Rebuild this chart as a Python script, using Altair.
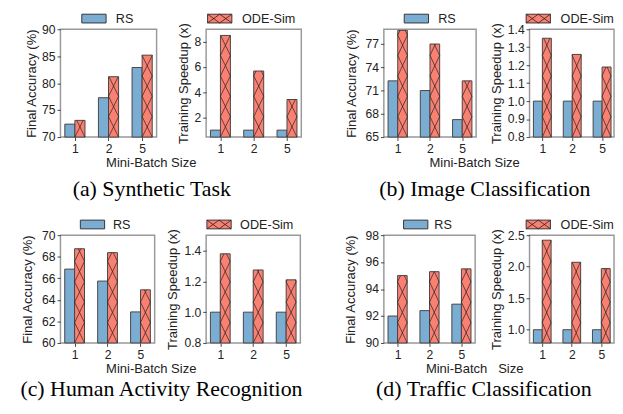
import altair as alt
import pandas as pd

batches = ["1", "2", "5"]
series = ["RS", "ODE-Sim"]
colors = ["#7BADD3", "#FA8072"]

acc_a_rs = [72.4, 77.3, 82.9]
acc_a_ode = [73.1, 81.2, 85.2]
spd_a_rs = [1.0, 1.0, 1.0]
spd_a_ode = [8.51, 5.69, 3.43]

acc_b_rs = [72.25, 71.0, 67.25]
acc_b_ode = [78.75, 77.0, 72.25]
spd_b_rs = [1.0, 1.0, 1.0]
spd_b_ode = [1.35, 1.26, 1.19]

acc_c_rs = [66.85, 65.74, 62.88]
acc_c_ode = [68.74, 68.38, 64.93]
spd_c_rs = [1.0, 1.0, 1.0]
spd_c_ode = [1.379, 1.274, 1.21]

acc_d_rs = [92.0, 92.4, 92.88]
acc_d_ode = [95.0, 95.29, 95.5]
spd_d_rs = [1.0, 1.0, 1.0]
spd_d_ode = [2.42, 2.07, 1.97]

captions = ["(a) Synthetic Task", "(b) Image Classification",
            "(c) Human Activity Recognition", "(d) Traffic Classification"]
xtitles = ["Mini-Batch Size", "Mini-Batch Size", "Mini-Batch Size", "Mini-Batch\u00a0\u00a0 Size"]
acc_title = "Final Accuracy (%)"
spd_title = "Training Speedup (x)"

H = 111
BW = 0.3
HATCH_PX = 21
FONT = "Liberation Sans"
FS_LABEL = 12.5
FS_TITLE = 13.4
LFS = 13
LEG_TOP, LEG_BOT = -15.5, -6.5
LEG_HALF = 12.5


def bars_df(rs, ode, base):
    rows = []
    for i, b in enumerate(batches):
        rows.append(dict(x0=i - BW, x1=i, y0=base, y1=rs[i], series="RS"))
        rows.append(dict(x0=i, x1=i + BW, y0=base, y1=ode[i], series="ODE-Sim"))
    return pd.DataFrame(rows)


def hatch_df(ode, base, top_dom):
    step = HATCH_PX * (top_dom - base) / H
    rows = []
    for i in range(len(batches)):
        xl, xr = i, i + BW
        y = base
        top = ode[i]
        while y < top - 1e-9:
            frac = min(1.0, (top - y) / step)
            yt = y + frac * step
            rows.append(dict(x0=xl, x1=xl + frac * BW, y0=y, y1=yt))
            rows.append(dict(x0=xr, x1=xr - frac * BW, y0=y, y1=yt))
            y += step
    return pd.DataFrame(rows)


def legend_layers(leg, cx, tx):
    ci = series.index(leg)
    one = pd.DataFrame({"s": [leg]})
    out = [alt.Chart(one).mark_rect(
        fill=colors[ci], stroke="#333333", strokeWidth=1
    ).encode(x=alt.value(cx - LEG_HALF), x2=alt.value(cx + LEG_HALF),
             y=alt.value(LEG_TOP), y2=alt.value(LEG_BOT))]
    if ci == 1:
        for xa, xb in [(cx - LEG_HALF, cx), (cx, cx + LEG_HALF)]:
            for ya, yb in [(LEG_TOP, LEG_BOT), (LEG_BOT, LEG_TOP)]:
                out.append(alt.Chart(one).mark_rule(color="#222222", strokeWidth=0.8).encode(
                    x=alt.value(xa), x2=alt.value(xb), y=alt.value(ya), y2=alt.value(yb)))
    out.append(alt.Chart(one).mark_text(
        align="left", baseline="alphabetic", font=FONT, fontSize=LFS, color="#222222"
    ).encode(x=alt.value(tx), y=alt.value(-6), text="s:N"))
    return out


def panel(rs, ode, ydom, yticks, yfmt, ytitle, ytx, width, xmax,
          leg, leg_cx, leg_tx, caption=None, cap_x=0, cap_y=0, xtitle=None):
    xs = alt.Scale(domain=[-0.43, xmax], nice=False, zero=False)
    ys = alt.Scale(domain=ydom, nice=False, zero=False)
    xkw = dict(values=[0, 1, 2], labelExpr="['1','2','5'][datum.value]",
               grid=False, domain=False, tickSize=3.5, labelPadding=2)
    if xtitle:
        xkw.update(title=xtitle, titleX=93, titleY=26.5, titleAlign="center",
                   titleBaseline="middle")
    else:
        xkw.update(title=None)
    xaxis = alt.Axis(**xkw)
    yaxis = alt.Axis(values=yticks, format=yfmt, title=ytitle, grid=False,
                     domain=False, tickSize=3.5, labelPadding=2,
                     titleX=-ytx, titleY=H / 2, titleAngle=270,
                     titleAlign="center", titleBaseline="middle")
    bars = alt.Chart(bars_df(rs, ode, ydom[0])).mark_bar(
        stroke="#444444", strokeWidth=1
    ).encode(
        x=alt.X("x0:Q", scale=xs, axis=xaxis),
        x2="x1:Q",
        y=alt.Y("y1:Q", scale=ys, axis=yaxis),
        y2="y0:Q",
        color=alt.Color("series:N", scale=alt.Scale(domain=series, range=colors), legend=None),
    )
    hatch = alt.Chart(hatch_df(ode, ydom[0], ydom[1])).mark_rule(
        color="#222222", strokeWidth=0.7
    ).encode(
        x=alt.X("x0:Q", scale=xs, axis=xaxis),
        x2="x1:Q",
        y=alt.Y("y0:Q", scale=ys, axis=yaxis),
        y2="y1:Q",
    )
    layers = [bars, hatch] + legend_layers(leg, leg_cx, leg_tx)
    if caption:
        cap = alt.Chart(pd.DataFrame({"c": [caption]})).mark_text(
            align="center", baseline="alphabetic", font="Liberation Serif",
            fontSize=22.5, color="#000000"
        ).encode(x=alt.value(cap_x), y=alt.value(cap_y), text="c:N")
        layers.append(cap)
    return alt.layer(*layers).properties(width=width, height=H)


def spacer(w, anchor=None):
    base = alt.Chart(pd.DataFrame({"a": [0]})).mark_point(opacity=0, size=1).encode(
        x=alt.value(1), y=alt.value(1)
    )
    if anchor is not None:
        a = alt.Chart(pd.DataFrame({"a": [0]})).mark_rect(opacity=0).encode(
            x=alt.value(1), x2=alt.value(4), y=alt.value(anchor[0]), y2=alt.value(anchor[1])
        )
        base = alt.layer(base, a)
    return base.properties(width=w, height=H, view=alt.ViewBackground(strokeOpacity=0))


A_acc = panel(acc_a_rs, acc_a_ode, [70, 90], [70, 75, 80, 85, 90], "d", acc_title, 30, 99, 2.43,
              "RS", 34.5, 57, captions[0], 94, 172, xtitles[0])
A_spd = panel(spd_a_rs, spd_a_ode, [0.45, 9.0], [2, 4, 6, 8], "d", spd_title, 23.5, 98, 2.43,
              "ODE-Sim", 14, 37)
B_acc = panel(acc_b_rs, acc_b_ode, [65, 78.9], [65, 68, 71, 74, 77], "d", acc_title, 33, 95, 2.43,
              "RS", 33.5, 56, captions[1], 104, 172, xtitles[1])
B_spd = panel(spd_b_rs, spd_b_ode, [0.8, 1.4], [0.8, 0.9, 1.0, 1.1, 1.2, 1.3, 1.4], ".1f", spd_title, 34, 87, 2.40,
              "ODE-Sim", 9, 32)
C_acc = panel(acc_c_rs, acc_c_ode, [60, 70], [60, 62, 64, 66, 68, 70], "d", acc_title, 34, 97, 2.43,
              "RS", 33, 54, captions[2], 104, 165.5, xtitles[2])
C_spd = panel(spd_c_rs, spd_c_ode, [0.8, 1.5], [0.8, 1.0, 1.2, 1.4], ".1f", spd_title, 35, 97, 2.43,
              "ODE-Sim", 13.3, 35)
D_acc = panel(acc_d_rs, acc_d_ode, [90, 98], [90, 92, 94, 96, 98], "d", acc_title, 34, 94, 2.43,
              "RS", 32.8, 52, captions[3], 103, 165.5, xtitles[3])
D_spd = panel(spd_d_rs, spd_d_ode, [0.79, 2.5], [1.0, 1.5, 2.0, 2.5], ".1f", spd_title, 34, 87, 2.43,
              "ODE-Sim", 9, 32)

TOP_ANCHOR = 60
BOT_ANCHOR = 210
row1 = [spacer(54, (-TOP_ANCHOR, -TOP_ANCHOR + 10)), A_acc, spacer(39), A_spd,
        spacer(83), B_acc, spacer(50), B_spd]
row2 = [spacer(39, (BOT_ANCHOR - 10, BOT_ANCHOR)), C_acc, spacer(51), C_spd,
        spacer(85), D_acc, spacer(55), D_spd]

ROW_GAP = 101
# row-1 plot top sits 16px below the page margin; content ends 382px below row-1 plot top
pad_top = -(TOP_ANCHOR - 16)
pad_bottom = -((H + ROW_GAP + BOT_ANCHOR) - 382)

chart = alt.concat(
    *row1, *row2, columns=8, align="none", bounds="flush",
    spacing={"row": ROW_GAP, "column": 0}
).properties(
    padding={"left": 0, "top": pad_top, "right": 0, "bottom": pad_bottom}
).configure_view(
    stroke="#999999", strokeWidth=1.5
).configure_axis(
    labelFont=FONT, labelFontSize=FS_LABEL, labelColor="#222222",
    titleFont=FONT, titleFontSize=FS_TITLE, titleFontWeight="normal", titleColor="#222222",
    tickColor="#444444", tickWidth=1
)

chart.save("out.html", embed_options={"renderer": "svg", "actions": False})
